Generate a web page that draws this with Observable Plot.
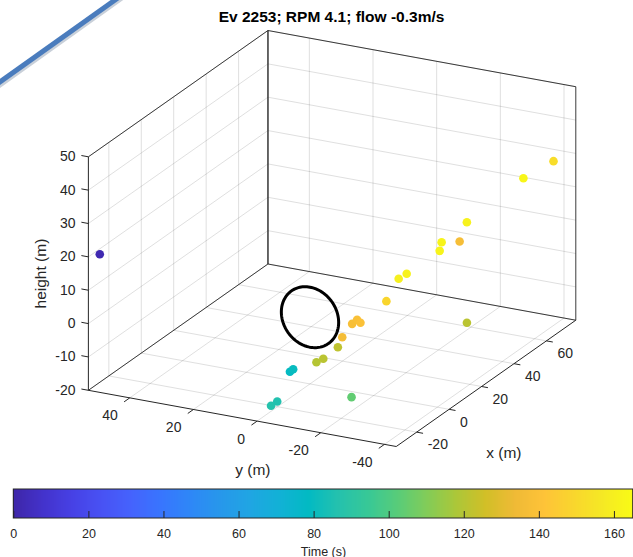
<!DOCTYPE html>
<html><head><meta charset="utf-8">
<script src="https://cdn.jsdelivr.net/npm/d3@7"></script>
<script src="https://cdn.jsdelivr.net/npm/@observablehq/plot@0.6"></script>
<style>
html,body{margin:0;padding:0;background:#fff;}
body{width:633px;height:557px;overflow:hidden;position:relative;font-family:"Liberation Sans",Arial,sans-serif;}
#chart svg,#cbar svg{display:block;}
#deco{position:absolute;left:0;top:0;pointer-events:none;}
</style></head><body>
<div id="chart"></div>
<div id="cbar"></div>
<svg id="deco" width="633" height="110">
  <line x1="-4" y1="88.5" x2="124" y2="-3" stroke="#c9d0d9" stroke-width="4"/>
  <line x1="-5" y1="85.5" x2="122" y2="-5" stroke="#4a7cbd" stroke-width="5"/>
</svg>
<script>
// ---- text ----
const titleText = "Ev 2253; RPM 4.1; flow -0.3m/s";
const xLabel = "x (m)", yLabel = "y (m)", zLabel = "height (m)", cbarLabel = "Time (s)";

// ---- tracked target positions (m) and detection time (s) ----
const time = [2, 79, 80, 87, 86, 104, 120, 121, 122, 136, 138, 139, 140, 121, 149, 160, 161, 162, 162, 137, 161, 163, 152];
const xPos = [-29.3, -5.7, -3.5, -24.8, -21.0, -10.9, 2.0, 2.9, 10.5, 13.4, 19.3, 20.4, 21.1, 30.0, 25.5, 26.4, 28.6, 34.8, 36.4, 36.9, 39.6, 61.1, 72.2];
const yPos = [51.1, 3.4, 3.5, -0.4, -0.4, -18.6, -1.0, -2.7, -3.4, -3.3, -3.4, -4.4, -5.1, -34.0, -11.0, -14.4, -15.8, -23.0, -22.8, -28.2, -29.1, -35.9, -39.7];
const zPos = [20, -15, -15, -18, -18, -17, -14, -13, -12, -10, -8, -7, -8, -6, -2, 5, 6, 12, 14, 15, 20, 27, 29];

// ---- rotor (turbine disk in the x = 0 plane, centred on the hub) ----
const rotorRadius = 9;
const rotorCentre = [0, 0, 0];

// ---- axes ----
const xLim = [-32.6, 78.1], yLim = [-43.7, 53.0], zLim = [-20, 50];
const xTicks = [-20, 0, 20, 40, 60];
const yTicks = [-40, -20, 0, 20, 40];
const zTicks = [-20, -10, 0, 10, 20, 30, 40, 50];
const timeLim = [0, 165];
const cbarTicks = [0, 20, 40, 60, 80, 100, 120, 140, 160];
const view = {az: -63, el: 21};

// parula colormap stops
const parula = ["#3e26a8","#4332cb","#4741e5","#4852f4","#4563fd","#3875fe","#2e87f7","#2797eb","#20a5e3","#12b1d6","#02bac3","#24c1ae","#37c897","#57cc7a","#81cc59","#abc739","#d1bf27","#efba36","#fec338","#f9d62d","#f5e924","#f9fb15"];
const parulaInterp = d3.piecewise(d3.interpolateRgb, parula);

// ---- projection (orthographic, MATLAB-style az/el) ----
const rad = Math.PI / 180;
const ca = Math.cos(view.az * rad), sa = Math.sin(view.az * rad);
const ce = Math.cos(view.el * rad), se = Math.sin(view.el * rad);
const P = (x, y, z) => [x * ca + y * sa, -x * sa * se + y * ca * se + z * ce];
const seg = (a, b) => { const p = P(...a), q = P(...b); return {x1: p[0], y1: p[1], x2: q[0], y2: q[1]}; };
const pt = (x, y, z, extra) => { const p = P(x, y, z); return Object.assign({u: p[0], v: p[1]}, extra); };

const [x0, x1] = xLim, [y0, y1] = yLim, [z0, z1] = zLim;

// grid on the three back planes
const grid = [];
for (const x of xTicks) { grid.push(seg([x, y0, z0], [x, y1, z0])); grid.push(seg([x, y1, z0], [x, y1, z1])); }
for (const y of yTicks) { grid.push(seg([x0, y, z0], [x1, y, z0])); grid.push(seg([x1, y, z0], [x1, y, z1])); }
for (const z of zTicks) { grid.push(seg([x0, y1, z], [x1, y1, z])); grid.push(seg([x1, y0, z], [x1, y1, z])); }

// box edges (back style)
const backCorner = [seg([x1, y1, z0], [x1, y1, z1])];
const backEdges = [
  seg([x1, y0, z0], [x1, y0, z1]),
  seg([x0, y1, z1], [x1, y1, z1]),
  seg([x1, y1, z1], [x1, y0, z1]),
  seg([x0, y1, z0], [x1, y1, z0]),
  seg([x1, y1, z0], [x1, y0, z0])
];
const axisEdges = [
  seg([x0, y1, z0], [x0, y1, z1]),
  seg([x0, y0, z0], [x0, y1, z0]),
  seg([x0, y0, z0], [x1, y0, z0])
];
const tickSegs = [
  ...zTicks.map(z => seg([x0, y1, z], [x0, y1 + 2.2, z])),
  ...yTicks.map(y => seg([x0, y, z0], [x0 - 3.5, y, z0])),
  ...xTicks.map(x => seg([x, y0, z0], [x, y0 - 2, z0]))
];
const zTickLabels = zTicks.map(z => pt(x0, y1, z, {label: String(z)}));
const yTickLabels = yTicks.map(y => pt(x0, y, z0, {label: String(y)}));
const xTickLabels = xTicks.map(x => pt(x, y0, z0, {label: String(x)}));

const rotor = d3.range(0, 361, 3).map(a => pt(rotorCentre[0], rotorCentre[1] + rotorRadius * Math.cos(a * rad), rotorCentre[2] + rotorRadius * Math.sin(a * rad)));
const points = time.map((t, i) => pt(xPos[i], yPos[i], zPos[i], {t}));

// ---- layout ----
const W = 633, H = 482, pxPerUnit = 3.573, originPx = [309.5, 316.7];
const font = '"Liberation Sans", Arial, Helvetica, sans-serif';
const ink = "#262626";
const colorScale = {type: "linear", domain: timeLim, interpolate: parulaInterp};
const L = {x1: "x1", y1: "y1", x2: "x2", y2: "y2"};

const chart = Plot.plot({
  width: W, height: H,
  marginTop: 0, marginRight: 0, marginBottom: 0, marginLeft: 0,
  style: {fontFamily: font, background: "white"},
  x: {axis: null, domain: [-originPx[0] / pxPerUnit, (W - originPx[0]) / pxPerUnit]},
  y: {axis: null, domain: [(originPx[1] - H) / pxPerUnit, originPx[1] / pxPerUnit]},
  color: colorScale,
  marks: [
    Plot.link(grid, {...L, stroke: ink, strokeOpacity: 0.15, strokeWidth: 1}),
    Plot.link(backEdges, {...L, stroke: ink, strokeWidth: 0.9}),
    Plot.link(backCorner, {...L, stroke: ink, strokeWidth: 1.4}),
    Plot.link(axisEdges, {...L, stroke: ink, strokeWidth: 1}),
    Plot.link(tickSegs, {...L, stroke: ink, strokeWidth: 1}),
    Plot.line(rotor, {x: "u", y: "v", stroke: "black", strokeWidth: 3}),
    Plot.dot(points, {x: "u", y: "v", fill: "t", r: 4.3}),
    Plot.text(zTickLabels, {x: "u", y: "v", text: "label", textAnchor: "end", dx: -12.8, fontSize: 14, fill: ink}),
    Plot.text(yTickLabels, {x: "u", y: "v", text: "label", textAnchor: "end", dx: -12, dy: 18, fontSize: 14, fill: ink}),
    Plot.text(xTickLabels, {x: "u", y: "v", text: "label", textAnchor: "start", dx: 11, dy: 12.8, fontSize: 14, fill: ink}),
    Plot.text([pt(x0, (y0 + y1) / 2, z0, {label: yLabel})], {x: "u", y: "v", text: "label", dx: 10.5, dy: 52, fontSize: 15.5, fill: ink}),
    Plot.text([pt((x0 + x1) / 2, y0, z0, {label: xLabel})], {x: "u", y: "v", text: "label", dx: 17.8, dy: 69.5, fontSize: 15.5, fill: ink}),
    Plot.text([pt(x0, y1, (z0 + z1) / 2, {label: zLabel})], {x: "u", y: "v", text: "label", dx: -47.8, rotate: -90, fontSize: 15.5, fill: ink}),
    Plot.text([titleText], {frameAnchor: "top", dx: 14.5, dy: 17, lineAnchor: "middle", fontSize: 15.5, fontWeight: "bold", fill: "black"})
  ]
});
document.getElementById("chart").append(chart);

// ---- colour bar ----
const rampStep = 0.25;
const cbar = Plot.plot({
  width: W, height: 75,
  marginTop: 0, marginRight: 0, marginBottom: 0, marginLeft: 0,
  style: {fontFamily: font, background: "white"},
  x: {axis: null, domain: timeLim, range: [13.3, 632.7]},
  y: {axis: null, domain: [0, 1], range: [36, 7]},
  color: colorScale,
  marks: [
    Plot.rect(d3.range(timeLim[0], timeLim[1], rampStep), {x1: d => d, x2: d => Math.min(d + 2 * rampStep, timeLim[1]), y1: 0, y2: 1, fill: d => d + rampStep / 2, shapeRendering: "crispEdges"}),
    Plot.ruleX(cbarTicks, {x: d => d, y1: 0, y2: 0.24, stroke: ink, strokeWidth: 1}),
    Plot.rect([0], {x1: timeLim[0], x2: timeLim[1], y1: 0, y2: 1, fill: "none", stroke: ink, strokeWidth: 1}),
    Plot.text(cbarTicks, {x: d => d, y: 0, dy: 15, text: d => String(d), fontSize: 12.5, fill: ink}),
    Plot.text([cbarLabel], {x: (timeLim[0] + timeLim[1]) / 2, y: 0, dy: 33, text: d => d, fontSize: 12.5, fill: ink})
  ]
});
document.getElementById("cbar").append(cbar);
</script>
</body></html>
